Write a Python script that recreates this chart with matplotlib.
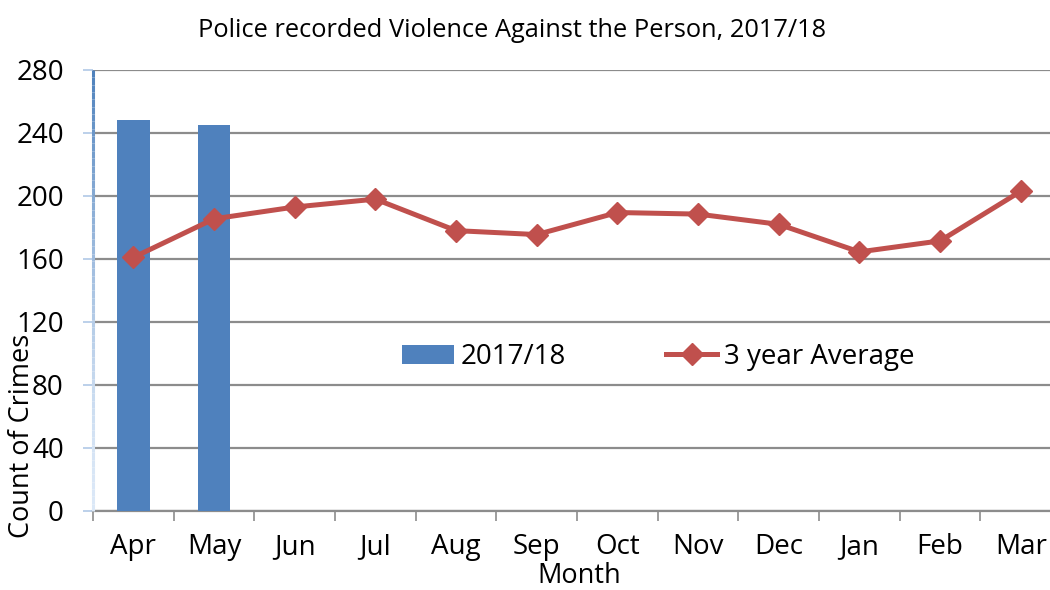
import matplotlib
matplotlib.use("Agg")
import matplotlib.pyplot as plt
import numpy as np
from matplotlib.collections import LineCollection

months = ["Apr", "May", "Jun", "Jul", "Aug", "Sep", "Oct", "Nov", "Dec", "Jan", "Feb", "Mar"]
bar_values = [248, 245]
avg_values = [161, 185.5, 193, 198, 178, 175.5, 189.5, 188.5, 182, 164.5, 171.5, 203]
y_ticks = [0, 40, 80, 120, 160, 200, 240, 280]

plt.rcParams['font.family'] = ['Open Sans', 'DejaVu Sans']

fig = plt.figure(figsize=(10.5, 5.9), dpi=100)
ax = fig.add_axes([0.0886, 0.1339, 0.922, 0.7475])

x = np.arange(len(months))
bars = ax.bar(x[:len(bar_values)], bar_values, width=0.4, color='#4F81BD', label='2017/18', zorder=3)
line, = ax.plot(x, avg_values, color='#C0504D', lw=3.6, marker='D', ms=11.5, label='3 year Average', zorder=4)

ax.set_xlim(-0.5, len(months) - 0.5)
ax.set_ylim(0, 280)
ax.set_yticks(y_ticks)
ax.yaxis.grid(True, color='#8C8C8C', lw=1.6, zorder=0)
ax.set_axisbelow(True)

# x ticks at category boundaries, labels at centers
ax.set_xticks(np.arange(-0.5, len(months) + 0.5, 1))
ax.set_xticklabels([])
ax.set_xticks(x, minor=True)
ax.set_xticklabels(months, minor=True, fontsize=20)
ax.tick_params(axis='x', which='major', length=7, width=1.2, color='#8C8C8C', direction='out')
ax.tick_params(axis='x', which='minor', length=0, pad=16)
ax.tick_params(axis='y', length=7, width=1.2, color='#B0C8E6', pad=14, labelsize=20)

for s in ['top', 'right']:
    ax.spines[s].set_visible(False)
ax.spines['bottom'].set_color('#8C8C8C')
ax.spines['bottom'].set_linewidth(1.6)
ax.spines['left'].set_visible(False)

# gradient left axis line
n = 60
ys = np.linspace(0, 1, n + 1)
segs = [[(0, ys[i]), (0, ys[i + 1])] for i in range(n)]
c0 = np.array([0.86, 0.91, 0.97])
c1 = np.array([0.31, 0.51, 0.74])
cols = [tuple(c0 + (c1 - c0) * (i / (n - 1)) ** 1.5) for i in range(n)]
lc = LineCollection(segs, colors=cols, linewidths=2.2, transform=ax.transAxes, clip_on=False, zorder=5)
ax.add_collection(lc)

leg = ax.legend([bars, line], ['2017/18', '3 year Average'], loc='center',
                bbox_to_anchor=(0.584, 0.349), ncol=2, frameon=False,
                fontsize=20, columnspacing=3.6, handlelength=1.85, handletextpad=0.25)

fig.text(0.488, 0.949, "Police recorded Violence Against the Person, 2017/18",
         ha='center', va='center', fontsize=18.3)
fig.text(0.552, 0.0, "Month", ha='center', va='bottom', fontsize=19.5)
fig.text(0.021, 0.262, "Count of Crimes", ha='center', va='center', rotation=90, fontsize=19.5)

fig.savefig("out.png", dpi=100)
